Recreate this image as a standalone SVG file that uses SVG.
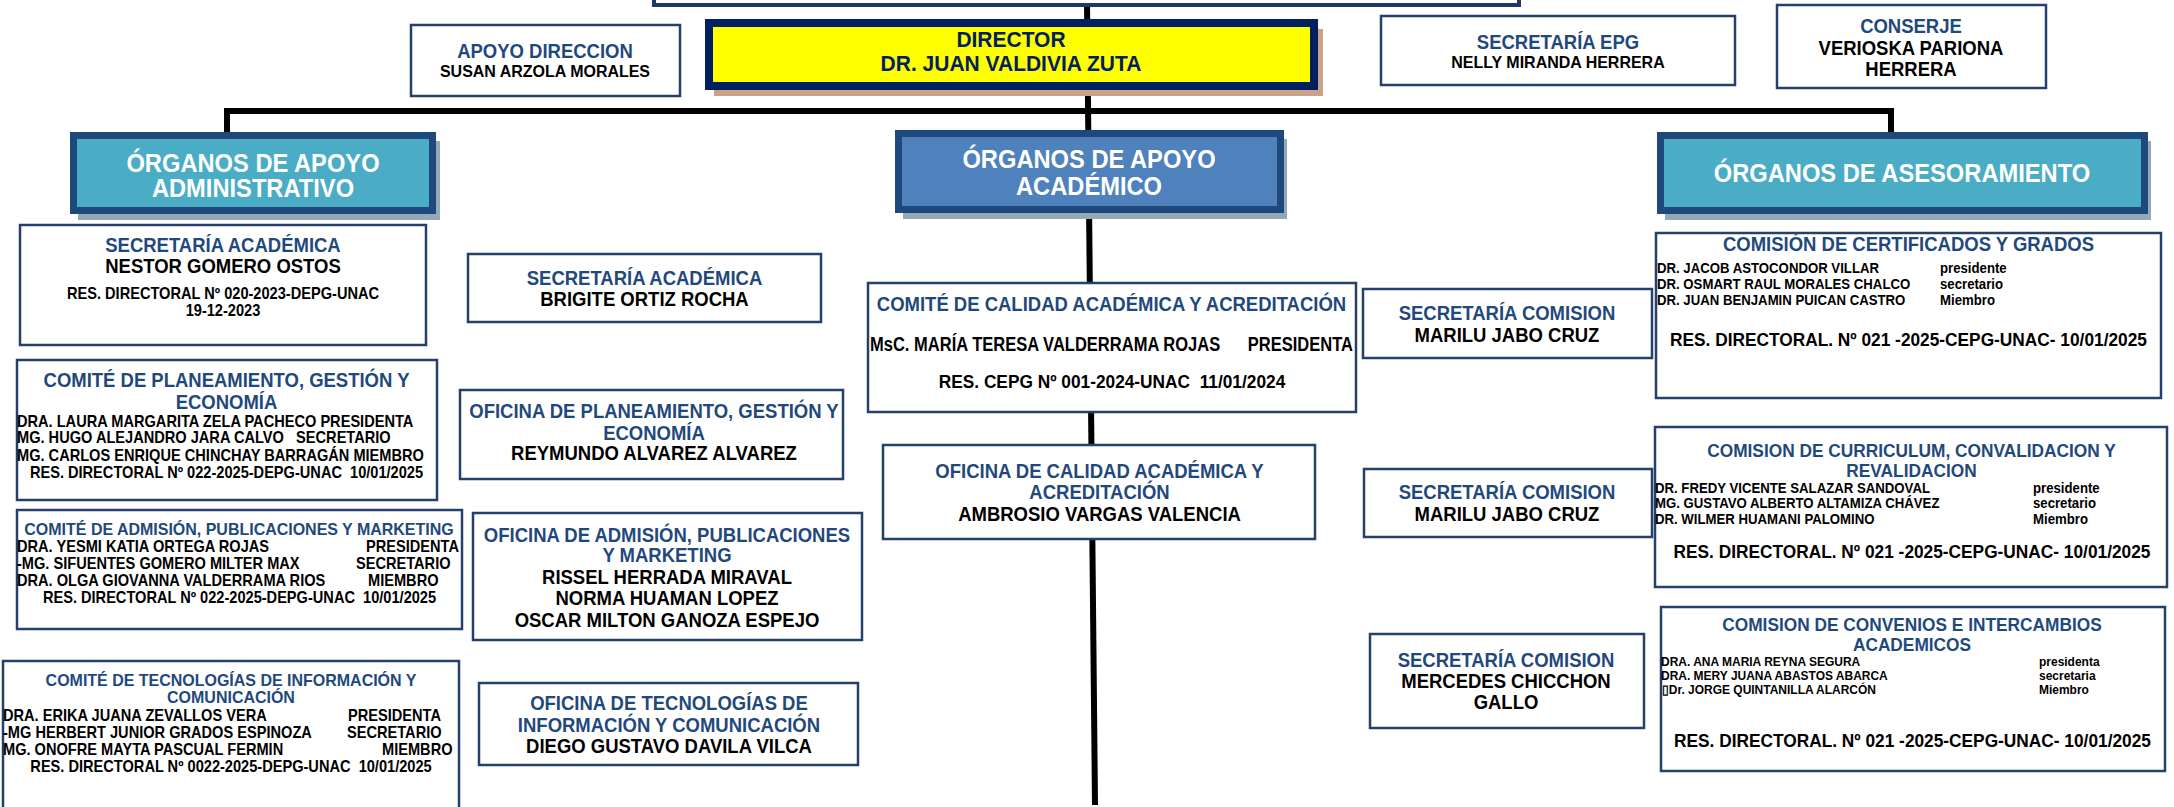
<svg xmlns="http://www.w3.org/2000/svg" width="2174" height="807" viewBox="0 0 2174 807">
<style>
.bx{fill:#fff;stroke:#24406b;stroke-width:2.5}
.org{stroke:#1F497D;stroke-width:7}
.sh{fill:#93a9b8}
.t{font-family:"Liberation Sans",Arial,sans-serif;font-weight:bold;transform-box:fill-box;transform-origin:50% 100%;transform:scaleY(1.07)}
.bl{fill:#1F497D}
.k{fill:#000}
.w{fill:#fff}
.c{text-anchor:middle}
.s24{font-size:23.7px}
.s21{font-size:21px}
.s185{font-size:18.5px}
.s173{font-size:17.3px}
.s16{font-size:16px}
.s146{font-size:14.6px}
.s132{font-size:13.2px}
.s12{font-size:12px}
.ln{stroke:#000;stroke-width:6;fill:none}
</style>
<rect width="2174" height="807" fill="#fff"/>
<g id="connectors">
<line class="ln" x1="1087" y1="2" x2="1095" y2="805"/>
<polyline class="ln" points="227,134 227,111 1891,111 1891,134"/>
</g>
<g id="top-box">
<rect x="654" y="-40" width="865" height="45" fill="#fff" stroke="#1F3864" stroke-width="4"/>
</g>
<g id="apoyo-direccion">
<rect class="bx" x="411" y="25" width="269" height="71"/>
<text class="t bl c s185" x="545" y="58">APOYO DIRECCION</text>
<text class="t k c s16" x="545" y="77">SUSAN ARZOLA MORALES</text>
</g>
<g id="director">
<rect x="714" y="29" width="609" height="67" fill="#c9a287"/>
<rect x="709" y="23" width="605" height="63" fill="#ffff00" stroke="#002060" stroke-width="8"/>
<text class="t c s21" fill="#002060" x="1011" y="47">DIRECTOR</text>
<text class="t c s21" fill="#002060" x="1011" y="71">DR. JUAN VALDIVIA ZUTA</text>
</g>
<g id="secretaria-epg">
<rect class="bx" x="1381" y="16" width="354" height="69"/>
<text class="t bl c s185" x="1558" y="49">SECRETARÍA EPG</text>
<text class="t k c s16" x="1558" y="68">NELLY MIRANDA HERRERA</text>
</g>
<g id="conserje">
<rect class="bx" x="1777" y="5" width="269" height="83"/>
<text class="t bl c s185" x="1911" y="33">CONSERJE</text>
<text class="t k c s185" x="1911" y="55">VERIOSKA PARIONA</text>
<text class="t k c s185" x="1911" y="76">HERRERA</text>
</g>
<g id="organos-apoyo-administrativo">
<rect class="sh" x="78" y="141" width="362" height="79"/>
<rect class="org" x="73.5" y="135.5" width="359" height="75" fill="#4BACC6"/>
<text class="t w c s24" x="253" y="172">ÓRGANOS DE APOYO</text>
<text class="t w c s24" x="253" y="197">ADMINISTRATIVO</text>
</g>
<g id="organos-apoyo-academico">
<rect class="sh" x="903" y="139" width="384" height="80"/>
<rect class="org" x="898.5" y="133.5" width="382" height="76" fill="#4F81BD"/>
<text class="t w c s24" x="1089" y="168">ÓRGANOS DE APOYO</text>
<text class="t w c s24" x="1089" y="195">ACADÉMICO</text>
</g>
<g id="organos-asesoramiento">
<rect class="sh" x="1665" y="141" width="486" height="79"/>
<rect class="org" x="1660.5" y="135.5" width="484" height="75" fill="#4BACC6"/>
<text class="t w c s24" x="1902" y="182">ÓRGANOS DE ASESORAMIENTO</text>
</g>
<g id="secretaria-academica-1">
<rect class="bx" x="20" y="225" width="406" height="120"/>
<text class="t bl c s185" x="223" y="252">SECRETARÍA ACADÉMICA</text>
<text class="t k c s185" x="223" y="273">NESTOR GOMERO OSTOS</text>
<text class="t k c s146" x="223" y="299">RES. DIRECTORAL Nº 020-2023-DEPG-UNAC</text>
<text class="t k c s146" x="223" y="316">19-12-2023</text>
</g>
<g id="comite-planeamiento">
<rect class="bx" x="17" y="360" width="420" height="140"/>
<text class="t bl c s185" x="226.5" y="387">COMITÉ DE PLANEAMIENTO, GESTIÓN Y</text>
<text class="t bl c s185" x="226.5" y="409">ECONOMÍA</text>
<text class="t k s146" x="17" y="427">DRA. LAURA MARGARITA ZELA PACHECO PRESIDENTA</text>
<text class="t k s146" x="17" y="443" xml:space="preserve">MG. HUGO ALEJANDRO JARA CALVO   SECRETARIO</text>
<text class="t k s146" x="17" y="461">MG. CARLOS ENRIQUE CHINCHAY BARRAGÁN MIEMBRO</text>
<text class="t k c s146" x="226.5" y="478" xml:space="preserve">RES. DIRECTORAL Nº 022-2025-DEPG-UNAC  10/01/2025</text>
</g>
<g id="comite-admision">
<rect class="bx" x="17" y="510" width="445" height="119"/>
<text class="t bl c s16" x="239" y="535">COMITÉ DE ADMISIÓN, PUBLICACIONES Y MARKETING</text>
<text class="t k s146" x="17" y="552">DRA. YESMI KATIA ORTEGA ROJAS</text>
<text class="t k s146" x="366" y="552">PRESIDENTA</text>
<text class="t k s146" x="17" y="569">-MG. SIFUENTES GOMERO MILTER MAX</text>
<text class="t k s146" x="356" y="569">SECRETARIO</text>
<text class="t k s146" x="17" y="586">DRA. OLGA GIOVANNA VALDERRAMA RIOS</text>
<text class="t k s146" x="368" y="586">MIEMBRO</text>
<text class="t k c s146" x="239.5" y="603" xml:space="preserve">RES. DIRECTORAL Nº 022-2025-DEPG-UNAC  10/01/2025</text>
</g>
<g id="comite-tecnologias">
<rect class="bx" x="3" y="661" width="456" height="170"/>
<text class="t bl c s16" x="231" y="686">COMITÉ DE TECNOLOGÍAS DE INFORMACIÓN Y</text>
<text class="t bl c s16" x="231" y="703">COMUNICACIÓN</text>
<text class="t k s146" x="3" y="721">DRA. ERIKA JUANA ZEVALLOS VERA</text>
<text class="t k s146" x="348" y="721">PRESIDENTA</text>
<text class="t k s146" x="3" y="738">-MG HERBERT JUNIOR GRADOS ESPINOZA</text>
<text class="t k s146" x="347" y="738">SECRETARIO</text>
<text class="t k s146" x="3" y="755">MG. ONOFRE MAYTA PASCUAL FERMIN</text>
<text class="t k s146" x="382" y="755">MIEMBRO</text>
<text class="t k c s146" x="231" y="772" xml:space="preserve">RES. DIRECTORAL Nº 0022-2025-DEPG-UNAC  10/01/2025</text>
</g>
<g id="secretaria-academica-2">
<rect class="bx" x="468" y="254" width="353" height="68"/>
<text class="t bl c s185" x="644.5" y="285">SECRETARÍA ACADÉMICA</text>
<text class="t k c s185" x="644.5" y="306">BRIGITE ORTIZ ROCHA</text>
</g>
<g id="oficina-planeamiento">
<rect class="bx" x="460" y="390" width="383" height="89"/>
<text class="t bl c s185" x="654" y="418">OFICINA DE PLANEAMIENTO, GESTIÓN Y</text>
<text class="t bl c s185" x="654" y="440">ECONOMÍA</text>
<text class="t k c s185" x="654" y="460">REYMUNDO ALVAREZ ALVAREZ</text>
</g>
<g id="oficina-admision">
<rect class="bx" x="473" y="513" width="389" height="127"/>
<text class="t bl c s185" x="667" y="542">OFICINA DE ADMISIÓN, PUBLICACIONES</text>
<text class="t bl c s185" x="667" y="562">Y MARKETING</text>
<text class="t k c s185" x="667" y="584">RISSEL HERRADA MIRAVAL</text>
<text class="t k c s185" x="667" y="605">NORMA HUAMAN LOPEZ</text>
<text class="t k c s185" x="667" y="627">OSCAR MILTON GANOZA ESPEJO</text>
</g>
<g id="oficina-tecnologias">
<rect class="bx" x="479" y="683" width="379" height="82"/>
<text class="t bl c s185" x="669" y="710">OFICINA DE TECNOLOGÍAS DE</text>
<text class="t bl c s185" x="669" y="732">INFORMACIÓN Y COMUNICACIÓN</text>
<text class="t k c s185" x="669" y="753">DIEGO GUSTAVO DAVILA VILCA</text>
</g>
<g id="comite-calidad">
<rect class="bx" x="868" y="283" width="488" height="129"/>
<text class="t bl c s185" x="1111.5" y="311">COMITÉ DE CALIDAD ACADÉMICA Y ACREDITACIÓN</text>
<text class="t k" font-size="19" x="870" y="351" textLength="483" lengthAdjust="spacingAndGlyphs" xml:space="preserve">MsC. MARÍA TERESA VALDERRAMA ROJAS      PRESIDENTA</text>
<text class="t k c s173" x="1112" y="388" xml:space="preserve">RES. CEPG Nº 001-2024-UNAC  11/01/2024</text>
</g>
<g id="oficina-calidad">
<rect class="bx" x="883" y="445" width="432" height="94"/>
<text class="t bl c s185" x="1099.5" y="478">OFICINA DE CALIDAD ACADÉMICA Y</text>
<text class="t bl c s185" x="1099.5" y="499">ACREDITACIÓN</text>
<text class="t k c s185" x="1099.5" y="521">AMBROSIO VARGAS VALENCIA</text>
</g>
<g id="secretaria-comision-1">
<rect class="bx" x="1363" y="289" width="289" height="69"/>
<text class="t bl c s185" x="1507" y="320">SECRETARÍA COMISION</text>
<text class="t k c s185" x="1507" y="342">MARILU JABO CRUZ</text>
</g>
<g id="comision-certificados">
<rect class="bx" x="1656" y="233" width="505" height="165"/>
<text class="t bl c s185" x="1908.5" y="251">COMISIÓN DE CERTIFICADOS Y GRADOS</text>
<text class="t k s132" x="1657" y="273">DR. JACOB ASTOCONDOR VILLAR</text>
<text class="t k s132" x="1940" y="273">presidente</text>
<text class="t k s132" x="1657" y="289">DR. OSMART RAUL MORALES CHALCO</text>
<text class="t k s132" x="1940" y="289">secretario</text>
<text class="t k s132" x="1657" y="305">DR. JUAN BENJAMIN PUICAN CASTRO</text>
<text class="t k s132" x="1940" y="305">Miembro</text>
<text class="t k c s173" x="1908.5" y="346">RES. DIRECTORAL. Nº 021 -2025-CEPG-UNAC- 10/01/2025</text>
</g>
<g id="secretaria-comision-2">
<rect class="bx" x="1364" y="469" width="288" height="68"/>
<text class="t bl c s185" x="1507" y="499">SECRETARÍA COMISION</text>
<text class="t k c s185" x="1507" y="521">MARILU JABO CRUZ</text>
</g>
<g id="comision-curriculum">
<rect class="bx" x="1655" y="427" width="512" height="160"/>
<text class="t bl c s173" x="1911.5" y="457">COMISION DE CURRICULUM, CONVALIDACION Y</text>
<text class="t bl c s173" x="1911.5" y="477">REVALIDACION</text>
<text class="t k s132" x="1655" y="493">DR. FREDY VICENTE SALAZAR SANDOVAL</text>
<text class="t k s132" x="2033" y="493">presidente</text>
<text class="t k s132" x="1655" y="508">MG. GUSTAVO ALBERTO ALTAMIZA CHÁVEZ</text>
<text class="t k s132" x="2033" y="508">secretario</text>
<text class="t k s132" x="1655" y="524">DR. WILMER HUAMANI PALOMINO</text>
<text class="t k s132" x="2033" y="524">Miembro</text>
<text class="t k c s173" x="1912" y="558">RES. DIRECTORAL. Nº 021 -2025-CEPG-UNAC- 10/01/2025</text>
</g>
<g id="secretaria-comision-3">
<rect class="bx" x="1370" y="634" width="274" height="94"/>
<text class="t bl c s185" x="1506" y="667">SECRETARÍA COMISION</text>
<text class="t k c s185" x="1506" y="688">MERCEDES CHICCHON</text>
<text class="t k c s185" x="1506" y="709">GALLO</text>
</g>
<g id="comision-convenios">
<rect class="bx" x="1661" y="607" width="504" height="164"/>
<text class="t bl c s173" x="1912" y="631">COMISION DE CONVENIOS E INTERCAMBIOS</text>
<text class="t bl c s173" x="1912" y="651">ACADEMICOS</text>
<text class="t k s12" x="1661" y="666">DRA. ANA MARIA REYNA SEGURA</text>
<text class="t k s12" x="2039" y="666">presidenta</text>
<text class="t k s12" x="1661" y="680">DRA. MERY JUANA ABASTOS ABARCA</text>
<text class="t k s12" x="2039" y="680">secretaria</text>
<text class="t k s12" x="1662" y="694">▯Dr. JORGE QUINTANILLA ALARCÓN</text>
<text class="t k s12" x="2039" y="694">Miembro</text>
<text class="t k c s173" x="1912.5" y="747">RES. DIRECTORAL. Nº 021 -2025-CEPG-UNAC- 10/01/2025</text>
</g>
</svg>
